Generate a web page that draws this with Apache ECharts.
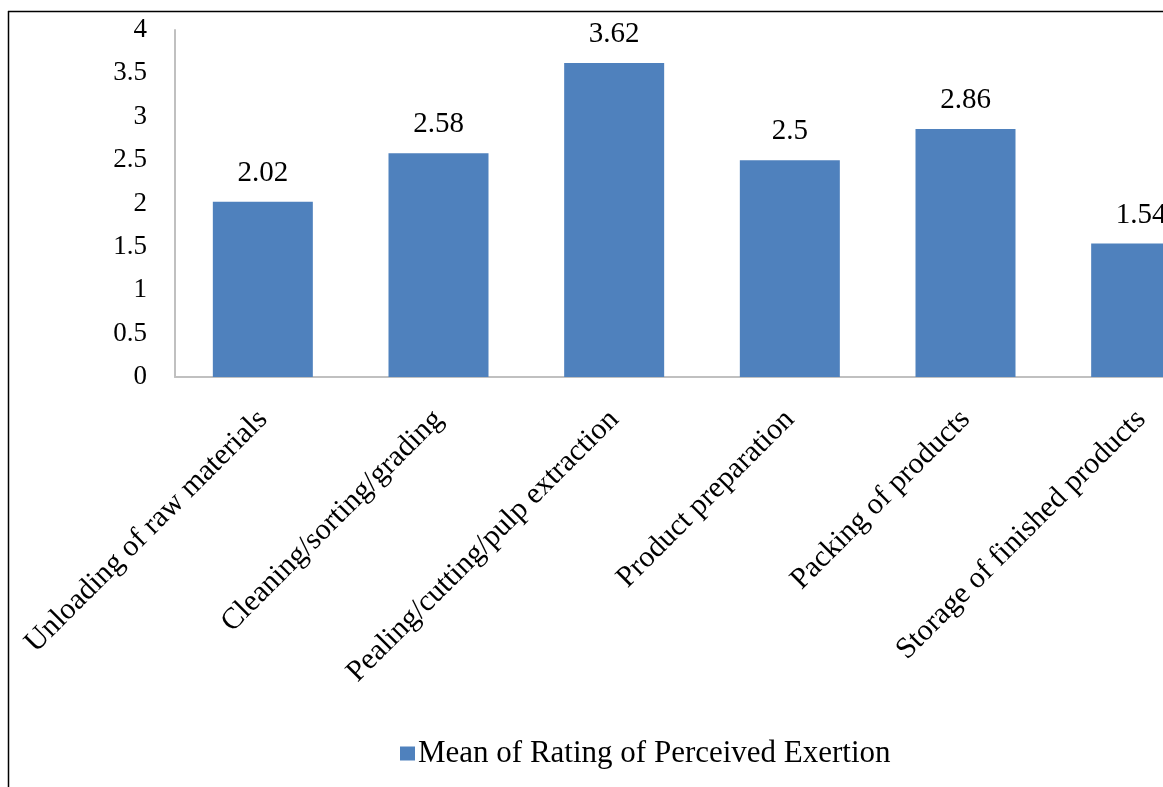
<!DOCTYPE html>
<html>
<head>
<meta charset="utf-8">
<script src="https://cdn.jsdelivr.net/npm/echarts@6/dist/echarts.min.js"></script>
<style>
html,body{margin:0;padding:0;background:#fff;overflow:hidden;width:1163px;height:787px;}
#chart{width:1300px;height:787px;}
</style>
</head>
<body>
<div id="chart"></div>
<script>
const categories = [
  'Unloading of raw materials',
  'Cleaning/sorting/grading',
  'Pealing/cutting/pulp extraction',
  'Product preparation',
  'Packing of products',
  'Storage of finished products'
];
const seriesName = 'Mean of Rating of Perceived Exertion';
const values = [2.02, 2.58, 3.62, 2.5, 2.86, 1.54];
const yTicks = [0, 0.5, 1, 1.5, 2, 2.5, 3, 3.5, 4];

const serif = '"Liberation Serif", "Times New Roman", serif';
const chart = echarts.init(document.getElementById('chart'), null, {renderer: 'canvas'});
chart.setOption({
  backgroundColor: '#fff',
  animation: false,
  graphic: [
    {type: 'line', shape: {x1: 8.5, y1: 11, x2: 8.5, y2: 787}, style: {stroke: '#000', lineWidth: 1.5}},
    {type: 'line', shape: {x1: 8, y1: 11.5, x2: 1300, y2: 11.5}, style: {stroke: '#000', lineWidth: 1.5}}
  ],
  legend: {
    left: 395, top: 733,
    icon: 'rect', itemWidth: 15, itemHeight: 14, itemGap: 6,
    textStyle: {fontFamily: serif, fontSize: 31, color: '#000', padding: [0,0,0,-2]},
    data: [seriesName]
  },
  grid: {left: 175, top: 30, width: 1054, height: 347, containLabel: false, outerBoundsMode: 'none'},
  xAxis: {
    type: 'category',
    data: categories,
    axisLine: {show: true, lineStyle: {color: '#c0c0c0', width: 2}},
    axisTick: {show: false},
    axisLabel: {rotate: 45, interval: 0, margin: 38, fontFamily: serif, fontSize: 30, color: '#000'}
  },
  yAxis: {
    type: 'value', min: yTicks[0], max: yTicks[yTicks.length-1], interval: yTicks[1]-yTicks[0],
    axisLine: {show: true, lineStyle: {color: '#c0c0c0', width: 2}},
    axisTick: {show: false},
    splitLine: {show: false},
    axisLabel: {margin: 28, fontFamily: serif, fontSize: 27, color: '#000'}
  },
  series: [{
    name: seriesName,
    type: 'bar',
    data: values,
    barWidth: 100,
    itemStyle: {color: '#4F81BD'},
    label: {show: true, position: 'top', distance: 14, fontFamily: serif, fontSize: 29, color: '#000'}
  }]
});
</script>
</body>
</html>
